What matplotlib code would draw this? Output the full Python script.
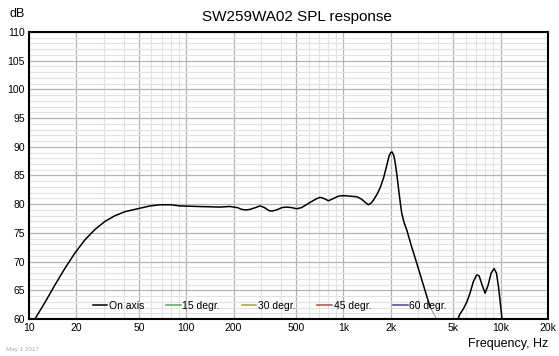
import numpy as np
import matplotlib
import matplotlib.pyplot as plt
from matplotlib.ticker import FixedLocator, NullFormatter

matplotlib.use('agg')
plt.rcParams['font.family'] = ['Liberation Sans', 'DejaVu Sans']

# on-axis response (Hz, dB)
freq_on = [10.0, 10.9, 12.64, 14.6, 16.9, 19.6, 22.7, 26.3, 30.4, 35.2, 40.8,
           50.8, 58.9, 68, 80, 91, 120, 164, 190, 212, 225, 240, 255, 275,
           295, 315, 335, 350, 375, 405, 436, 470, 504, 540, 580, 630, 680,
           710, 750, 802, 850, 929, 1000, 1102, 1216, 1300, 1380, 1439, 1500,
           1560, 1640, 1720, 1800, 1880, 1950, 2000, 2040, 2090, 2140, 2190,
           2234, 2290, 2349, 2430, 2529, 2700, 2927, 3200, 3556]
spl_on = [58.6, 60.0, 62.9, 65.9, 68.8, 71.5, 73.8, 75.6, 77.0, 78.0, 78.7,
          79.3, 79.7, 79.9, 79.9, 79.7, 79.6, 79.5, 79.6, 79.4, 79.1, 79.0,
          79.1, 79.4, 79.7, 79.4, 78.9, 78.8, 79.0, 79.4, 79.5, 79.4, 79.2,
          79.4, 79.9, 80.5, 81.0, 81.2, 81.0, 80.6, 80.9, 81.4, 81.5, 81.4,
          81.3, 80.9, 80.3, 79.9, 80.2, 80.8, 81.8, 83.0, 84.6, 86.6, 88.4,
          89.0, 89.1, 88.5, 87.0, 85.0, 83.0, 80.6, 78.4, 76.8, 75.5, 72.8,
          69.7, 66.2, 62.1]
# thin grey tail below the on-axis curve
freq_tail = [3556, 3944, 4100]
spl_tail = [62.1, 59.8, 58.9]
# high-frequency hump
freq_hi = [5300, 5461, 5800, 6100, 6400, 6700, 7046, 7300, 7600, 7961, 8300,
           8700, 9083, 9400, 9700, 10000, 10160, 10300]
spl_hi = [59.5, 60.7, 61.8, 63.0, 64.6, 66.5, 67.7, 67.5, 66.0, 64.5, 65.8,
          68.0, 68.8, 68.0, 65.5, 62.2, 60.4, 58.5]

other_labels = ['15 degr.', '30 degr.', '45 degr.', '60 degr.']
other_colors = ['#55aa55', '#aaa033', '#bb4444', '#4444aa']

major_x = [10, 20, 50, 100, 200, 500, 1000, 2000, 5000, 10000, 20000]
major_x_labels = ['10', '20', '50', '100', '200', '500', '1k', '2k', '5k', '10k', '20k']

fig = plt.figure(figsize=(5.59, 3.56), dpi=100)
ax = fig.add_axes([29 / 559, 1 - 319 / 356, (548 - 29) / 559, (319 - 32) / 356])

ax.set_xscale('log')
ax.set_xlim(10, 20000)
ax.set_ylim(60, 110)

minor_x = []
for dec in [10, 100, 1000, 10000]:
    for m in range(1, 10):
        v = dec * m
        if v <= 20000 and v not in major_x:
            minor_x.append(v)

ax.xaxis.set_major_locator(FixedLocator(major_x))
ax.set_xticklabels(major_x_labels)
ax.xaxis.set_minor_locator(FixedLocator(minor_x))
ax.xaxis.set_minor_formatter(NullFormatter())
ax.set_yticks(np.arange(60, 111, 5))
ax.set_yticks(np.arange(60, 111, 1), minor=True)

ax.grid(which='major', color='#b4b4b4', lw=0.9)
ax.grid(which='minor', color='#e2e2e2', lw=0.8)
ax.tick_params(which='both', length=0, labelsize=7.5, pad=3)
ax.set_axisbelow(True)
for s in ax.spines.values():
    s.set_color('black')
    s.set_linewidth(1.5)

ax.plot(freq_tail, spl_tail, color='#999999', lw=0.8)
ax.plot(freq_on, spl_on, color='black', lw=1.1, label='On axis')
ax.plot(freq_hi, spl_hi, color='black', lw=1.1)
for lab, col in zip(other_labels, other_colors):
    ax.plot([], [], color=col, lw=1.1, label=lab)

ax.legend(loc='lower left', bbox_to_anchor=(0.105, -0.004), ncol=5, frameon=False,
          fontsize=7.5, handlelength=1.4, handletextpad=0.15, columnspacing=2.1)

fig.text(297 / 559, 1 - 17 / 356, 'SW259WA02 SPL response', ha='center', va='center', fontsize=11)
fig.text(10 / 559, 1 - 14 / 356, 'dB', ha='left', va='center', fontsize=9)
fig.text(548 / 559, 1 - 344 / 356, 'Frequency, Hz', ha='right', va='center', fontsize=9)
fig.text(6 / 559, 1 - 349 / 356, 'May 1 2017', ha='left', va='center', fontsize=4.5, color='#aaaaaa')

fig.savefig('out.png', dpi=100)
